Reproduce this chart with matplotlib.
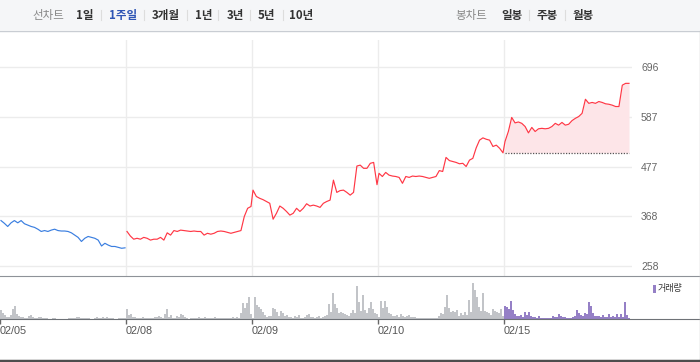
import matplotlib
matplotlib.use('Agg')
import matplotlib.pyplot as plt
from matplotlib.patches import Rectangle
from matplotlib.lines import Line2D

plt.rcParams['font.family'] = ['Noto Sans CJK KR', 'DejaVu Sans']

W, H = 700, 362

# toolbar labels
line_tabs = ['1일', '1주일', '3개월', '1년', '3년', '5년', '10년']
candle_tabs = ['일봉', '주봉', '월봉']
active_tab = '1주일'

# x axis (one block per day)
dates = ['02/05', '02/08', '02/09', '02/10', '02/15']
price_ticks = [258, 368, 477, 587, 696]

# intraday prices, one list per day
price_0205 = [358, 352, 345, 353, 358, 353, 358, 351, 348, 345, 343, 339, 334, 336, 334, 337, 339, 336, 335,
              335, 334, 331, 326, 321, 312, 319, 323, 321, 319, 315, 302, 308, 304, 301, 301, 299, 297, 298]
price_0208 = [334, 324, 317, 319, 317, 321, 319, 315, 317, 317, 321, 315, 331, 326, 336, 334, 337, 336, 335,
              334, 335, 334, 334, 326, 330, 328, 330, 334, 335, 334, 332, 330, 332, 334, 336, 367, 385, 389]
price_0209 = [425, 411, 407, 404, 400, 396, 361, 374, 390, 385, 378, 370, 374, 385, 378, 385, 395, 390, 392,
              390, 387, 396, 400, 403, 447, 420, 424, 425, 420, 414, 420, 478, 480, 473, 473, 484, 486, 437]
price_0210 = [462, 455, 464, 458, 456, 455, 453, 440, 455, 453, 456, 455, 456, 455, 453, 451, 453, 455, 468,
              466, 497, 490, 488, 486, 483, 484, 477, 491, 495, 518, 535, 540, 537, 535, 521, 524, 517, 507]
price_0215 = [532, 554, 585, 573, 575, 572, 565, 551, 563, 554, 560, 561, 560, 561, 565, 572, 568, 574, 568,
              570, 578, 583, 587, 594, 625, 616, 618, 616, 620, 618, 615, 614, 612, 609, 609, 656, 660, 660]

# volume bars (relative), one list per day
vol_0205 = [9, 6, 4, 2.5, 2, 4.5, 10, 13, 5, 3, 2, 2.5, 1.5, 1.5, 3.5, 4, 2.5, 1.5, 1.5, 2, 2.5, 1.5, 1.5,
            1, 0.5, 0.5, 1.5, 1.5, 0.5, 0.5, 0.5, 0.5, 0.5, 0.5, 1.5, 1.5, 1.5, 1.5, 2.5, 2, 1.5, 1.5, 1.5,
            1.5, 1.5, 0.5, 0.5, 1.5, 2.5, 1.5, 1.5, 2, 1.5, 2, 1.5, 1.5, 1.5, 0.5, 0.5, 1.5, 1.5, 1.5, 1.5]
vol_0208 = [10, 4.5, 5, 2.5, 2, 1.5, 1.5, 1, 2.5, 1, 1.5, 1, 1, 1, 2.5, 2, 3.5, 2, 1, 5, 10, 2.5, 4.5, 1,
            1.5, 3.5, 2, 5.5, 4.5, 2, 1, 0.5, 1, 1, 1, 1, 2.5, 1, 1.5, 2.5, 1.5, 1, 1, 1, 2.5, 1.5, 1, 1, 1,
            1, 1, 1, 1, 2, 1, 2.5, 1, 6, 16.5, 11, 16.5, 22.5, 5]
vol_0209 = [1, 22.5, 14, 12.5, 10, 7.5, 4.5, 2, 3, 3.5, 11, 10, 7.5, 3.5, 8, 6.5, 3, 4, 2.5, 2.5, 1.5, 3.5,
            2.5, 4.5, 1.5, 1, 2, 4.5, 5, 2, 2, 1.5, 2.5, 3.5, 1.5, 2.5, 3.5, 4.5, 15, 7.5, 26.5, 15, 11, 6, 7,
            6, 5, 4.5, 3.5, 6, 9, 6, 33, 17, 8, 24, 9, 6, 11, 17.5, 10, 6, 5]
vol_0210 = [2.5, 18.5, 11, 18.5, 12.5, 6, 5, 3.5, 3, 4.5, 2, 5.5, 3, 2, 3.5, 4.5, 2, 2, 2.5, 1, 1, 1, 1, 1,
            1, 1, 1, 1.5, 1.5, 1.5, 3, 6, 5, 12, 24, 11, 7.5, 8.5, 7.5, 9.5, 3.5, 6.5, 4.5, 7.5, 4.5, 19,
            7.5, 36, 29, 22, 12, 8, 26.5, 8.5, 7.5, 6, 4.5, 10, 8.5, 7.5, 6, 10, 3.5]
vol_0215 = [13, 12.5, 10, 18.5, 9, 5, 3.5, 3.5, 4.5, 2, 7.5, 4.5, 7.5, 3, 2, 2.5, 1.5, 3.5, 1.5, 1, 1, 1,
            1.5, 1, 3.5, 2, 2, 5, 3.5, 2.5, 2.5, 1, 1.5, 1.5, 2, 3.5, 9, 6, 4.5, 3.5, 6, 5.5, 17.5, 13, 6,
            3.5, 3.5, 3.5, 2, 4.5, 2.5, 2, 5.5, 2.5, 3.5, 2, 5.5, 2.5, 5.5, 2.5, 17.5, 4, 1.5]

prices = [price_0205, price_0208, price_0209, price_0210, price_0215]
volumes = [vol_0205, vol_0208, vol_0209, vol_0210, vol_0215]

DAY = 126.0  # px per day block


def box(x0, y0, x1, y1):
    return [x0 / W, 1 - y1 / H, (x1 - x0) / W, (y1 - y0) / H]


def fx(x):
    return x / W


def fy(y):
    return 1 - y / H


def day_x(d, n, first, last):
    return [d + (first + i * (last - first) / (n - 1)) / DAY for i in range(n)]


fig = plt.figure(figsize=(W / 100, H / 100), dpi=100)
fig.patch.set_facecolor('white')

# toolbar
fig.add_artist(Rectangle((0, fy(30)), 1, 30 / H, transform=fig.transFigure,
                         facecolor='#f5f6f8', edgecolor='none'))
fig.add_artist(Line2D([0, 1], [fy(30.5)] * 2, transform=fig.transFigure, color='#c9cdd3', lw=1))

fs = 8.3
fig.text(fx(48), fy(15), '선차트', ha='center', va='center', fontsize=fs, color='#888888')
tab_x = [85, 123.5, 166, 203.5, 235, 266.5, 301.5]
for lbl, x in zip(line_tabs, tab_x):
    fig.text(fx(x), fy(15), lbl, ha='center', va='center', fontsize=fs, fontweight='bold',
             color='#2f55b5' if lbl == active_tab else '#333333')
for x in [101, 144, 187, 218, 250, 283, 529, 565]:
    fig.add_artist(Line2D([fx(x)] * 2, [fy(10), fy(20)], transform=fig.transFigure,
                          color='#dddddd', lw=0.8))
fig.text(fx(471.5), fy(15), '봉차트', ha='center', va='center', fontsize=fs, color='#888888')
for lbl, x in zip(candle_tabs, [511.5, 547, 583]):
    fig.text(fx(x), fy(15), lbl, ha='center', va='center', fontsize=fs, fontweight='bold', color='#333333')

# price panel
k = (price_ticks[-1] - price_ticks[0]) / (266 - 67)
ax = fig.add_axes(box(0, 40, 632, 276))
ax.set_xlim(0, 632 / DAY)
ax.set_ylim(price_ticks[0] - (276 - 266) * k, price_ticks[-1] + (67 - 40) * k)
for s in ax.spines.values():
    s.set_visible(False)
ax.set_xticks(range(1, len(dates)))
ax.set_xticklabels([])
ax.set_yticks(price_ticks)
ax.yaxis.tick_right()
ax.tick_params(axis='both', length=0)
ax.tick_params(axis='y', pad=6.5, labelsize=7.5, labelcolor='#666666')
for t in ax.get_yticklabels():
    t.set_fontfamily(['Liberation Sans', 'DejaVu Sans'])
ax.grid(True, color='#ececec', lw=1)
ax.set_axisbelow(True)

xs = [day_x(d, len(p), 1, 125) for d, p in enumerate(prices)]
ax.plot(xs[0], prices[0], color='#3a7ee0', lw=0.85)
red_x = sum(xs[1:], [])
red_y = sum(prices[1:], [])
base = prices[3][-1]
ax.fill_between(xs[4], prices[4], base, color='#fde5e8', lw=0)
ax.plot([xs[4][0], xs[4][-1]], [base, base], color='#555555', lw=0.9, ls=(0, (1, 1.2)))
ax.plot(red_x, red_y, color='#ff3745', lw=0.85)

# volume panel
vax = fig.add_axes(box(0, 276, 700, 319))
vax.set_xlim(0, W / DAY)
vax.set_ylim(0, 43)
vax.set_facecolor('none')
for s in ['left', 'right']:
    vax.spines[s].set_visible(False)
vax.spines['top'].set_color('#8e9298')
vax.spines['bottom'].set_color('#6e7277')
vax.set_yticks([])
for d, v in enumerate(volumes):
    vx = day_x(d, len(v), 1, 125)
    vax.bar(vx, v, width=1.3 / DAY, color='#9580c6' if d == len(volumes) - 1 else '#c2c4c8', lw=0)
vax.set_xticks(range(len(dates)))
vax.set_xticklabels(dates, fontsize=7.8, color='#555555', ha='left')
for t in vax.get_xticklabels():
    t.set_fontfamily(['Liberation Sans', 'DejaVu Sans'])
vax.tick_params(axis='x', length=3.8, width=1, color='#666666', pad=1.5)

# volume legend
fig.add_artist(Rectangle((fx(653), fy(293)), 3 / W, 8 / H, transform=fig.transFigure,
                         facecolor='#9580c6', edgecolor='none'))
fig.text(fx(658), fy(289), '거래량', ha='left', va='center', fontsize=6.5, color='#333333')

# frame lines
fig.add_artist(Line2D([fx(699.5)] * 2, [fy(31), fy(359)], transform=fig.transFigure, color='#c8c8c8', lw=1))
fig.add_artist(Line2D([0, 1], [fy(360.5)] * 2, transform=fig.transFigure, color='#4d4d4d', lw=2.5))

fig.savefig('out.png', dpi=100)
